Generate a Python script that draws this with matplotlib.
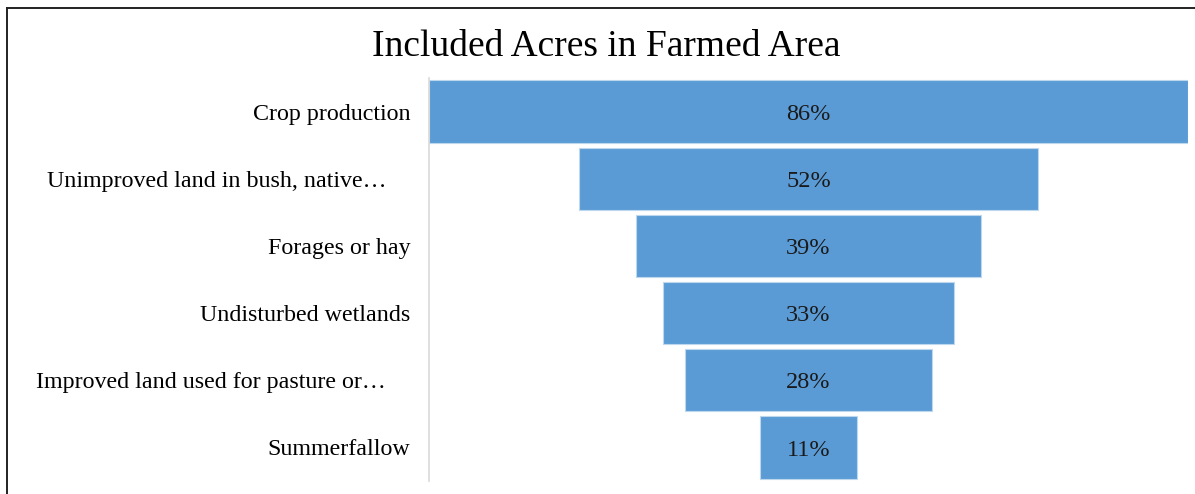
import matplotlib.pyplot as plt
from matplotlib.lines import Line2D

categories = [
    "Crop production",
    "Unimproved land in bush, native\u2026\u2003",
    "Forages or hay",
    "Undisturbed wetlands",
    "Improved land used for pasture or\u2026\u2003",
    "Summerfallow",
]
percents = [86, 52, 39, 33, 28, 11]

plt.rcParams["font.family"] = ["Liberation Serif", "DejaVu Serif"]

fig = plt.figure(figsize=(11.95, 4.94), dpi=100)
ax = fig.add_axes([429 / 1195, 1 - 481 / 494, (1188 - 429) / 1195, (481 - 78) / 494])

ypos = list(range(len(categories)))
lefts = [-p / 2 for p in percents]
ax.barh(ypos, percents, left=lefts, height=0.93, color="#5B9BD5",
        edgecolor="#BDD7EE", linewidth=0.8)

for y, p in zip(ypos, percents):
    ax.text(0, y + 0.04, f"{p}%", ha="center", va="center", fontsize=17.5, color="#1a1a1a")

ax.set_xlim(-43, 43)
ax.set_ylim(len(categories) - 0.5, -0.5)
ax.set_yticks(ypos)
ax.set_yticklabels(categories, fontsize=17.3)
ax.tick_params(axis="y", length=0, pad=13.5)
ax.set_xticks([])
for s in ["top", "right", "bottom"]:
    ax.spines[s].set_visible(False)
ax.spines["left"].set_color("#D9D9D9")
ax.spines["left"].set_linewidth(1.2)

fig.text(606 / 1195, 1 - 47 / 494, "Included Acres in Farmed Area",
         ha="center", va="center", fontsize=27)

# outer chart border (top and left visible)
fig.add_artist(Line2D([7 / 1195, 1], [1 - 8 / 494, 1 - 8 / 494], color="#222222", lw=1.4))
fig.add_artist(Line2D([7 / 1195, 7 / 1195], [0, 1 - 8 / 494], color="#222222", lw=1.4))

fig.savefig("out.png", dpi=100)
